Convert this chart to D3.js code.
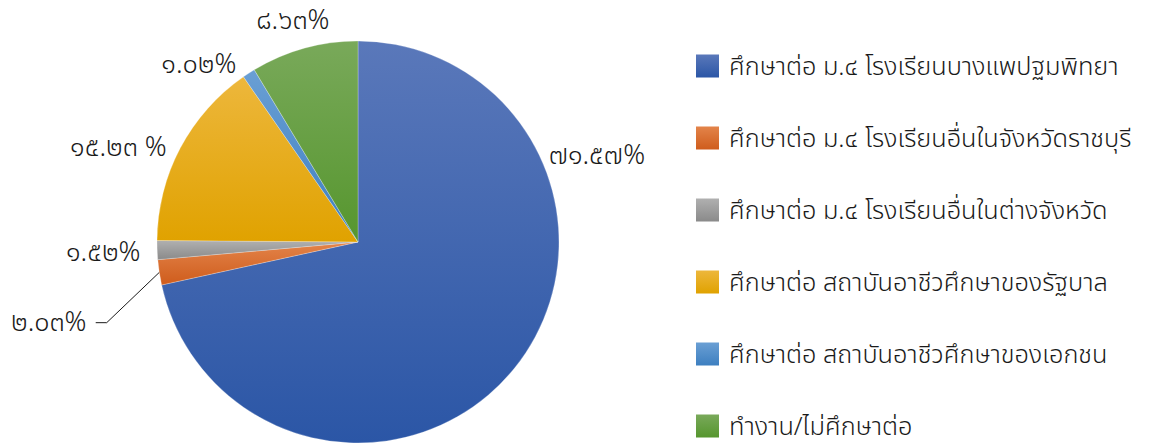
<!DOCTYPE html>
<html>
<head>
<meta charset="utf-8">
<script src="https://cdn.jsdelivr.net/npm/d3@7"></script>
<style>
  body { margin: 0; background: #fff; }
  text { font-family: "Noto Sans Thai", "Noto Sans", "DejaVu Sans", sans-serif; fill: #1a1a1a; font-weight: 300; }
</style>
</head>
<body>
<div id="chart"></div>
<script>
// data
var categories = [
  "ศึกษาต่อ ม.๔ โรงเรียนบางแพปฐมพิทยา",
  "ศึกษาต่อ ม.๔ โรงเรียนอื่นในจังหวัดราชบุรี",
  "ศึกษาต่อ ม.๔ โรงเรียนอื่นในต่างจังหวัด",
  "ศึกษาต่อ สถาบันอาชีวศึกษาของรัฐบาล",
  "ศึกษาต่อ สถาบันอาชีวศึกษาของเอกชน",
  "ทำงาน/ไม่ศึกษาต่อ"
];
var values = [71.57, 2.03, 1.52, 15.23, 1.02, 8.63];
var valueLabels = ["๗๑.๕๗%", "๒.๐๓%", "๑.๕๒%", "๑๕.๒๓ %", "๑.๐๒%", "๘.๖๓%"];

// colours: [top, bottom] of each slice gradient
var colors = [
  ["#5a78ba", "#2b56a6"],
  ["#e3844a", "#cf5c1c"],
  ["#b0b0b0", "#8a8a8a"],
  ["#edb73c", "#e0a200"],
  ["#6a9fd4", "#3d7fc0"],
  ["#79a95a", "#56962e"]
];

// label nudges from the outer centroid (layout only)
var labelNudge = [[55, -235], [-76, 44], [-19, 0], [-31, 15], [-31, 20], [-2, 5]];

var width = 1152, height = 446;
var cx = 358, cy = 242, radius = 201;

var svg = d3.select("#chart")
  .append("svg")
    .attr("width", width)
    .attr("height", height);

var defs = svg.append("defs");
colors.forEach(function(c, i) {
  var g = defs.append("linearGradient")
    .attr("id", "grad" + i)
    .attr("x1", 0).attr("y1", 0)
    .attr("x2", 0).attr("y2", 1);
  g.append("stop").attr("offset", "0%").attr("stop-color", c[0]);
  g.append("stop").attr("offset", "100%").attr("stop-color", c[1]);
});

var pie = d3.pie().sort(null).value(function(d) { return d; });
var arcs = pie(values);

var arc = d3.arc().innerRadius(0).outerRadius(radius);
var outer = d3.arc().innerRadius(radius + 35).outerRadius(radius + 35);
var edge = d3.arc().innerRadius(radius).outerRadius(radius);

var g = svg.append("g")
  .attr("transform", "translate(" + cx + "," + cy + ")");

g.selectAll("path.slice")
  .data(arcs)
  .enter()
  .append("path")
    .attr("class", "slice")
    .attr("d", arc)
    .attr("fill", function(d, i) { return "url(#grad" + i + ")"; })
    .attr("stroke", "#ffffff")
    .attr("stroke-width", 0.5)
    .attr("stroke-opacity", 0.5);

// labels
var labelPos = arcs.map(function(d, i) {
  var c = outer.centroid(d);
  return [c[0] + labelNudge[i][0], c[1] + labelNudge[i][1]];
});

g.selectAll("text.lbl")
  .data(arcs)
  .enter()
  .append("text")
    .attr("class", "lbl")
    .attr("x", function(d, i) { return labelPos[i][0]; })
    .attr("y", function(d, i) { return labelPos[i][1]; })
    .attr("dy", "0.35em")
    .attr("text-anchor", "middle")
    .style("font-size", "27px")
    .text(function(d, i) { return valueLabels[i]; });

// leader line for the small orange slice
var e = edge.centroid(arcs[1]);
var lp = labelPos[1];
g.append("path")
  .attr("d", d3.line()([[e[0], e[1]], [lp[0] + 58, lp[1] + 1], [lp[0] + 47, lp[1] + 1]]))
  .attr("fill", "none")
  .attr("stroke", "#1a1a1a")
  .attr("stroke-width", 1);

// legend
var legend = svg.append("g")
  .attr("transform", "translate(696,66)");

var rows = legend.selectAll("g.row")
  .data(categories)
  .enter()
  .append("g")
    .attr("class", "row")
    .attr("transform", function(d, i) { return "translate(0," + (i * 72) + ")"; });

rows.append("rect")
  .attr("x", 0)
  .attr("y", -11.5)
  .attr("width", 23)
  .attr("height", 23)
  .attr("fill", function(d, i) { return "url(#grad" + i + ")"; });

rows.append("text")
  .attr("x", 33)
  .attr("y", 0)
  .attr("dy", "0.35em")
  .style("font-size", "25.3px")
  .text(function(d) { return d; });
</script>
</body>
</html>
